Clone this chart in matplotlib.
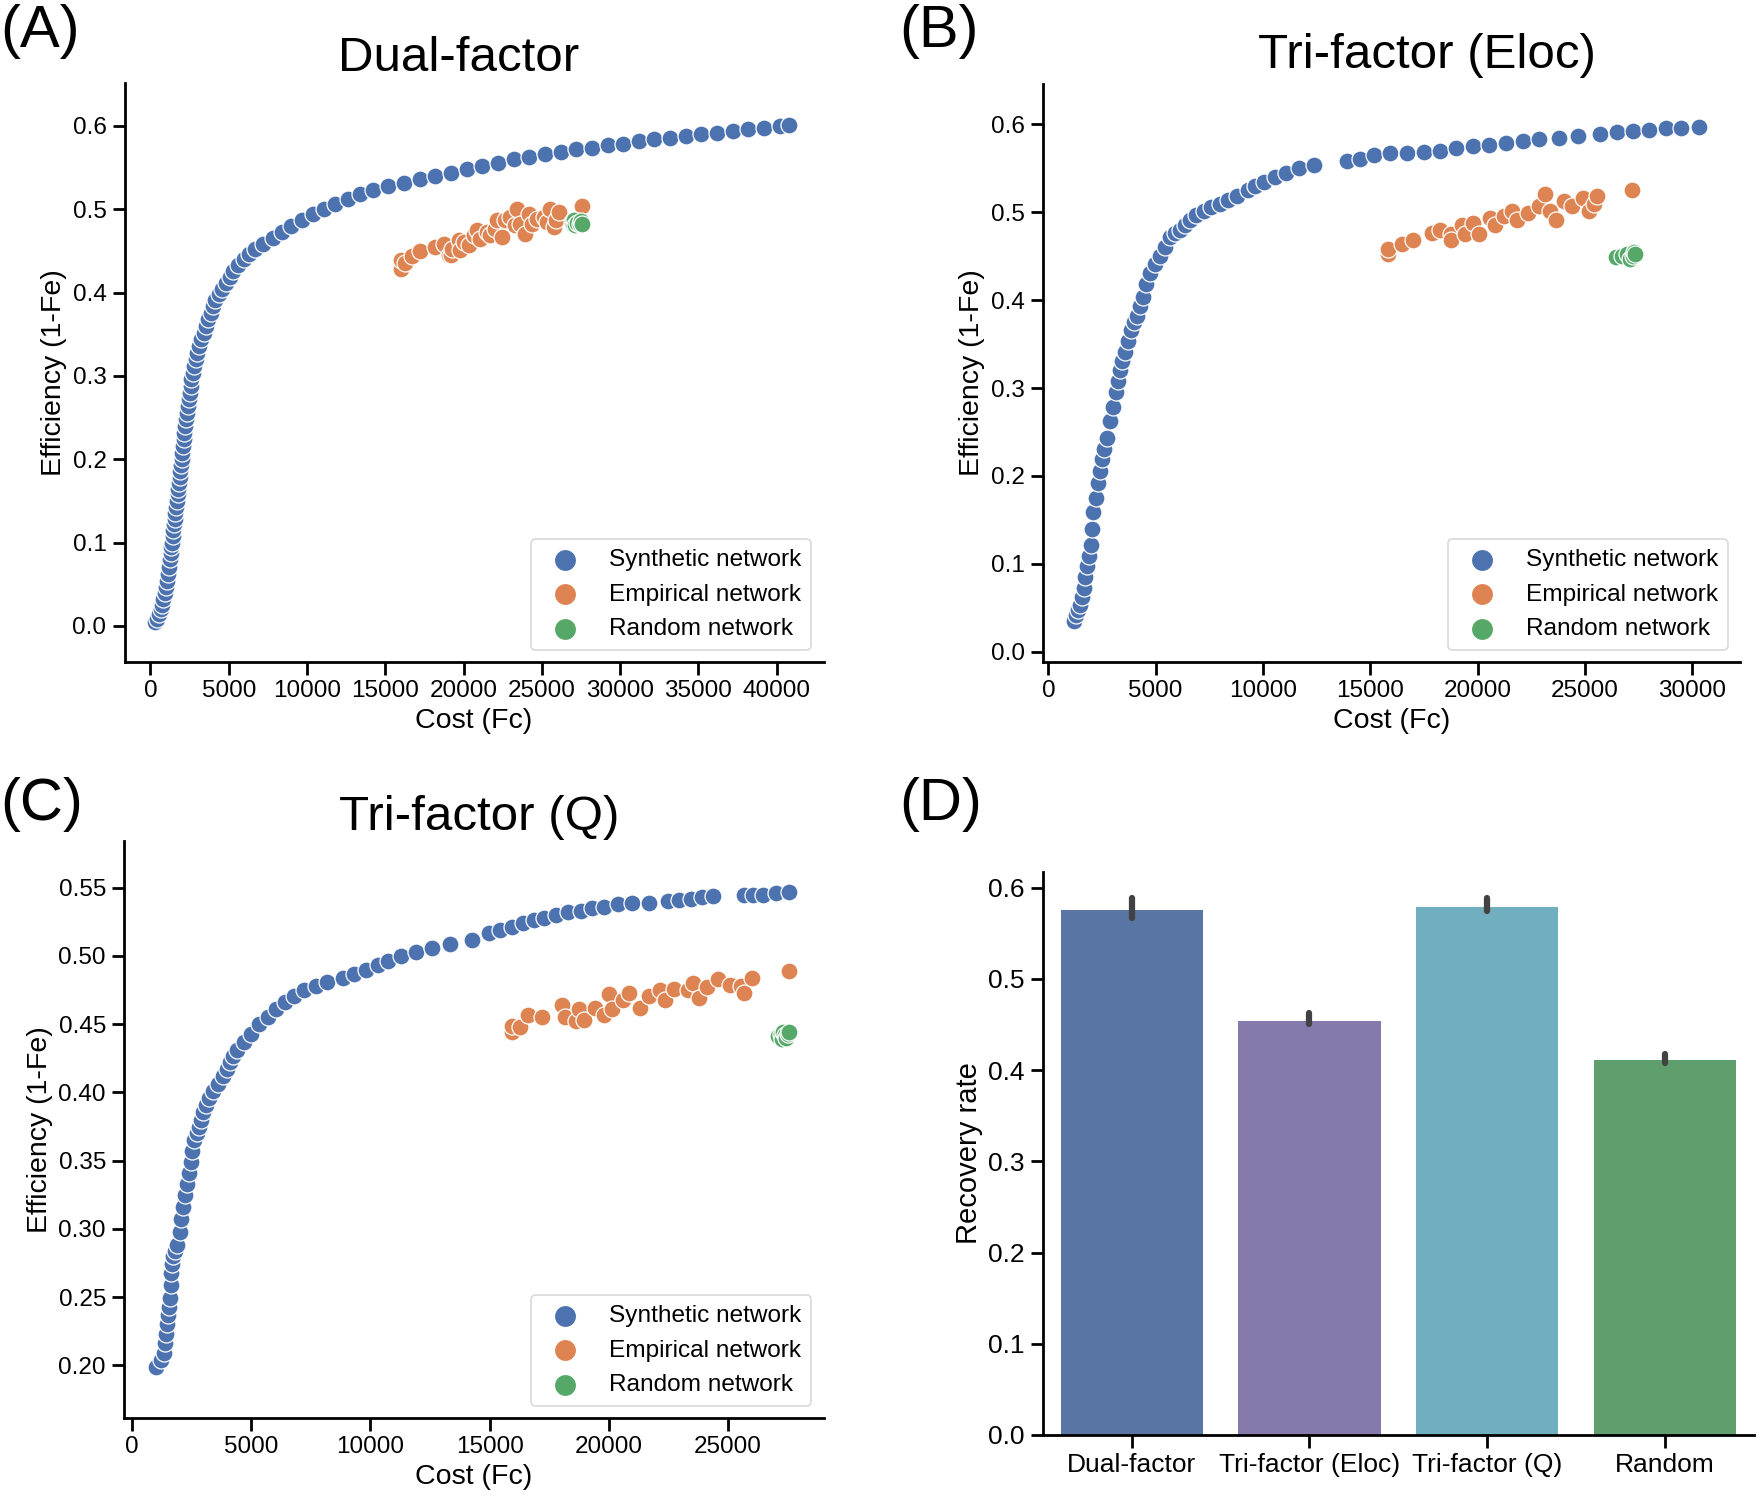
import numpy as np
import matplotlib
matplotlib.use("Agg")
import matplotlib.pyplot as plt
from matplotlib.ticker import FormatStrFormatter

plt.rcParams['font.family'] = ['Liberation Sans', 'DejaVu Sans']

# ---- (A) Dual-factor ----
a_syn_x = [300, 420, 560, 650, 725, 820, 900, 980, 1050, 1110, 1170, 1230, 1280, 1330, 1377,
           1420, 1460, 1500, 1540, 1590, 1630, 1680, 1740, 1780, 1820, 1860, 1900, 1950, 2000,
           2040, 2080, 2120, 2170, 2220, 2270, 2330, 2390, 2440, 2500, 2560, 2620, 2700, 2780,
           2880, 3000, 3120, 3250, 3400, 3550, 3700, 3850, 4000, 4150, 4350, 4550, 4800, 5050,
           5300, 5600, 5950, 6300, 6700, 7200, 7800, 8400, 9000, 9700, 10400, 11100, 11800,
           12600, 13400, 14200, 15200, 16200, 17200, 18200, 19200, 20200, 21200, 22200, 23200,
           24200, 25200, 26200, 27200, 28200, 29200, 30200, 31200, 32200, 33200, 34200, 35200,
           36200, 37200, 38200, 39200, 40200, 40800]
a_syn_y = [0.005, 0.008, 0.014, 0.020, 0.025, 0.032, 0.040, 0.047, 0.054, 0.062, 0.071, 0.080,
           0.088, 0.095, 0.100, 0.108, 0.115, 0.122, 0.129, 0.136, 0.143, 0.150, 0.158, 0.165,
           0.172, 0.179, 0.186, 0.193, 0.200, 0.208, 0.216, 0.224, 0.232, 0.240, 0.248, 0.256,
           0.264, 0.272, 0.280, 0.288, 0.296, 0.304, 0.312, 0.320, 0.328, 0.336, 0.344, 0.352,
           0.360, 0.368, 0.376, 0.384, 0.391, 0.398, 0.405, 0.412, 0.419, 0.426, 0.433, 0.440,
           0.447, 0.453, 0.459, 0.466, 0.473, 0.480, 0.487, 0.494, 0.500, 0.506, 0.512, 0.518,
           0.523, 0.528, 0.532, 0.536, 0.540, 0.544, 0.548, 0.552, 0.556, 0.560, 0.563, 0.566,
           0.569, 0.572, 0.574, 0.577, 0.579, 0.582, 0.584, 0.586, 0.588, 0.590, 0.592, 0.594,
           0.596, 0.598, 0.600, 0.601]
a_emp_x = [16000, 16010, 16230, 16710, 17240, 18200, 18730, 19050, 19200, 19270, 19690, 19800,
           20010, 20330, 20650, 20860, 21070, 21500, 21710, 22030, 22140, 22460, 22670, 22990,
           23310, 23420, 23630, 23950, 24160, 24370, 24690, 25120, 25330, 25540, 25750, 25880,
           26070, 27570]
a_emp_y = [0.429, 0.439, 0.436, 0.444, 0.450, 0.455, 0.458, 0.445, 0.445, 0.453, 0.463, 0.451,
           0.461, 0.457, 0.469, 0.475, 0.465, 0.473, 0.469, 0.477, 0.487, 0.467, 0.487, 0.491,
           0.481, 0.501, 0.483, 0.471, 0.495, 0.483, 0.489, 0.491, 0.485, 0.501, 0.479, 0.487,
           0.497, 0.504]
a_rnd_x = [26900, 27000, 27030, 27150, 27250, 27430, 27500, 27570]
a_rnd_y = [0.485, 0.483, 0.487, 0.481, 0.484, 0.483, 0.486, 0.482]

# ---- (B) Tri-factor (Eloc) ----
b_syn_x = [1205, 1300, 1380, 1460, 1550, 1640, 1720, 1800, 1880, 1970, 2040, 2100, 2200, 2310,
           2400, 2490, 2610, 2740, 2870, 3000, 3130, 3230, 3330, 3450, 3560, 3700, 3850, 4000,
           4150, 4280, 4410, 4560, 4720, 4950, 5180, 5430, 5690, 5920, 6150, 6370, 6590, 6900,
           7230, 7600, 8000, 8380, 8770, 9280, 9650, 10050, 10550, 11080, 11700, 12360, 13900,
           14500, 15180, 15900, 16720, 17500, 18260, 19000, 19800, 20550, 21330, 22100, 22870,
           23800, 24670, 25690, 26500, 27230, 28000, 28770, 29500, 30310]
b_syn_y = [0.035, 0.042, 0.048, 0.053, 0.062, 0.072, 0.085, 0.097, 0.109, 0.121, 0.140, 0.159,
           0.175, 0.192, 0.206, 0.219, 0.231, 0.243, 0.262, 0.279, 0.295, 0.308, 0.320, 0.331,
           0.341, 0.354, 0.366, 0.375, 0.382, 0.393, 0.404, 0.418, 0.431, 0.441, 0.450, 0.461,
           0.472, 0.476, 0.480, 0.486, 0.491, 0.497, 0.502, 0.506, 0.510, 0.514, 0.518, 0.525,
           0.530, 0.535, 0.540, 0.545, 0.550, 0.554, 0.558, 0.561, 0.565, 0.567, 0.568, 0.569,
           0.570, 0.573, 0.575, 0.577, 0.579, 0.581, 0.583, 0.585, 0.587, 0.589, 0.591, 0.593,
           0.594, 0.596, 0.596, 0.597]
b_emp_x = [15820, 15820, 16460, 16970, 17870, 18260, 18770, 18770, 19280, 19410, 19800, 20050,
           20560, 20820, 21210, 21590, 21850, 22360, 22870, 23130, 23380, 23640, 24030, 24410,
           24920, 25180, 25440, 25560, 27180]
b_emp_y = [0.453, 0.458, 0.464, 0.468, 0.476, 0.480, 0.475, 0.469, 0.486, 0.475, 0.488, 0.475,
           0.494, 0.486, 0.496, 0.502, 0.491, 0.499, 0.507, 0.521, 0.502, 0.491, 0.513, 0.507,
           0.516, 0.502, 0.510, 0.518, 0.525]
b_rnd_x = [26460, 26720, 26970, 27100, 27230, 27300, 27350]
b_rnd_y = [0.449, 0.450, 0.453, 0.447, 0.450, 0.455, 0.452]

# ---- (C) Tri-factor (Q) ----
c_syn_x = [1010, 1200, 1360, 1400, 1430, 1480, 1530, 1570, 1600, 1620, 1640, 1680, 1710, 1800,
           1880, 2000, 2070, 2140, 2220, 2300, 2380, 2460, 2540, 2610, 2720, 2820, 2900, 3000,
           3120, 3240, 3420, 3590, 3830, 3970, 4110, 4260, 4410, 4700, 5000, 5350, 5700, 6050,
           6410, 6800, 7230, 7700, 8170, 8870, 9330, 9810, 10300, 10750, 11300, 11920, 12600,
           13330, 14270, 14980, 15450, 15920, 16400, 16850, 17300, 17790, 18300, 18850, 19300,
           19790, 20400, 20960, 21670, 22490, 22950, 23430, 23900, 24370, 25660, 26050, 26480,
           27000, 27540]
c_syn_y = [0.199, 0.204, 0.209, 0.216, 0.223, 0.230, 0.237, 0.243, 0.249, 0.259, 0.268, 0.274,
           0.280, 0.284, 0.288, 0.298, 0.307, 0.316, 0.325, 0.333, 0.341, 0.349, 0.357, 0.365,
           0.370, 0.375, 0.380, 0.386, 0.391, 0.396, 0.401, 0.406, 0.412, 0.417, 0.422, 0.427,
           0.431, 0.437, 0.443, 0.450, 0.455, 0.461, 0.466, 0.471, 0.475, 0.478, 0.481, 0.484,
           0.487, 0.490, 0.493, 0.496, 0.500, 0.503, 0.506, 0.509, 0.512, 0.517, 0.519, 0.521,
           0.524, 0.526, 0.528, 0.530, 0.532, 0.533, 0.535, 0.536, 0.538, 0.539, 0.539, 0.540,
           0.541, 0.542, 0.543, 0.544, 0.545, 0.545, 0.545, 0.546, 0.547]
c_emp_x = [15920, 15960, 16270, 16620, 17210, 18030, 18150, 18620, 18730, 18970, 19440, 19790,
           20020, 20140, 20610, 20850, 21310, 21670, 22140, 22370, 22730, 23310, 23550, 23780,
           24130, 24560, 25070, 25540, 25660, 26010, 27540]
c_emp_y = [0.444, 0.449, 0.448, 0.457, 0.455, 0.464, 0.455, 0.452, 0.461, 0.453, 0.462, 0.457,
           0.472, 0.461, 0.468, 0.473, 0.462, 0.471, 0.475, 0.468, 0.476, 0.475, 0.480, 0.469,
           0.477, 0.483, 0.479, 0.478, 0.473, 0.484, 0.489]
c_rnd_x = [27100, 27200, 27250, 27300, 27400, 27450, 27500, 27550]
c_rnd_y = [0.441, 0.443, 0.439, 0.444, 0.442, 0.440, 0.443, 0.444]

# ---- (D) recovery rate ----
methods = ['Dual-factor', 'Tri-factor (Eloc)', 'Tri-factor (Q)', 'Random']
recovery = [0.575, 0.454, 0.579, 0.411]
ci_low = [0.567, 0.450, 0.574, 0.408]
ci_high = [0.588, 0.462, 0.588, 0.417]
bar_colors = ['#5875A3', '#857AAB', '#71AEC0', '#5F9E6D']

series_labels = ['Synthetic network', 'Empirical network', 'Random network']
series_colors = ['#4C72B0', '#DD8452', '#55A868']

fig = plt.figure(figsize=(17.62, 14.99), dpi=100)


def style_axes(ax, tick_size):
    for side in ['top', 'right']:
        ax.spines[side].set_visible(False)
    for side in ['left', 'bottom']:
        ax.spines[side].set_linewidth(2.0)
    ax.tick_params(direction='out', length=9, width=2.0, labelsize=tick_size, pad=4)


def scatter_panel(rect, data, xlim, ylim, xticks, yticks, yfmt):
    ax = fig.add_axes(rect)
    for (xs, ys), lab, col in zip(data, series_labels, series_colors):
        ax.scatter(xs, ys, s=150, color=col, edgecolors='white', linewidths=0.9, label=lab)
    ax.set_xlim(*xlim)
    ax.set_ylim(*ylim)
    ax.set_xticks(xticks)
    ax.set_yticks(yticks)
    ax.yaxis.set_major_formatter(FormatStrFormatter(yfmt))
    ax.set_xlabel('Cost (Fc)', fontsize=20.5)
    ax.set_ylabel('Efficiency (1-Fe)', fontsize=20.5)
    style_axes(ax, 17.5)
    leg = ax.legend(loc='lower right', fontsize=17.6, frameon=True, fancybox=True,
                    markerscale=1.3)
    leg.get_frame().set_edgecolor('#d0d0d0')
    leg.get_frame().set_linewidth(1.2)
    return ax


W, H = 1762.0, 1499.0

scatter_panel([124.5 / W, 1 - 662 / H, 699 / W, 579 / H],
              [(a_syn_x, a_syn_y), (a_emp_x, a_emp_y), (a_rnd_x, a_rnd_y)],
              (-1660, 43000), (-0.0432, 0.6516),
              np.arange(0, 40001, 5000), np.arange(0, 0.61, 0.1), '%.1f')

scatter_panel([1043 / W, 1 - 662 / H, 697 / W, 578 / H],
              [(b_syn_x, b_syn_y), (b_emp_x, b_emp_y), (b_rnd_x, b_rnd_y)],
              (-250, 32230), (-0.0117, 0.646),
              np.arange(0, 30001, 5000), np.arange(0, 0.61, 0.1), '%.1f')

scatter_panel([124 / W, 1 - 1418 / H, 699.7 / W, 577.5 / H],
              [(c_syn_x, c_syn_y), (c_emp_x, c_emp_y), (c_rnd_x, c_rnd_y)],
              (-331, 29010), (0.1614, 0.5846),
              np.arange(0, 25001, 5000), np.arange(0.20, 0.551, 0.05), '%.2f')

# bar panel
axd = fig.add_axes([1042.8 / W, 1 - 1435 / H, 711 / W, 563 / H])
pos = np.arange(len(methods))
axd.bar(pos, recovery, width=0.8, color=bar_colors, edgecolor='none')
for p, lo, hi in zip(pos, ci_low, ci_high):
    axd.plot([p, p], [lo, hi], color='#424242', lw=4.5, solid_capstyle='round')
axd.set_xlim(-0.5, 3.5)
axd.set_ylim(0, 0.617)
axd.set_xticks(pos)
axd.set_xticklabels(methods)
axd.set_yticks(np.arange(0, 0.61, 0.1))
axd.yaxis.set_major_formatter(FormatStrFormatter('%.1f'))
axd.set_ylabel('Recovery rate', fontsize=21)
style_axes(axd, 19)

# titles and panel letters
fig.text(458.5 / W, 1 - 70.8 / H, 'Dual-factor', fontsize=35.5, ha='center', va='baseline')
fig.text(1427 / W, 1 - 68 / H, 'Tri-factor (Eloc)', fontsize=35.5, ha='center', va='baseline')
fig.text(478.7 / W, 1 - 829.5 / H, 'Tri-factor (Q)', fontsize=35.5, ha='center', va='baseline')
for lab, x, y in [('(A)', 0, 47), ('(B)', 899, 47), ('(C)', 0, 820), ('(D)', 899, 820)]:
    fig.text(x / W, 1 - y / H, lab, fontsize=43, ha='left', va='baseline')

fig.savefig('out.png', dpi=100)
